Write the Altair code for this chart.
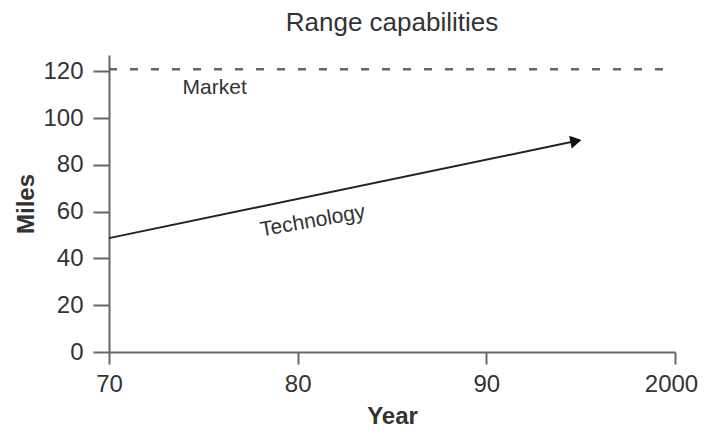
import altair as alt
import pandas as pd

# ---- data ----
market_years = [1970, 2000]
market_miles = [120.9, 120.9]

tech_years = [1970, 1994.75]
tech_miles = [48.7, 90.2]

label_text = ["Market", "Technology"]
label_years = [1975.6, 1980.8]
label_miles = [112.7, 55.9]
label_angle = [0, 350]

x_ticks = [1970, 1980, 1990, 2000]
y_ticks = [0, 20, 40, 60, 80, 100, 120]

FONT = "Liberation Sans"
AXIS_COLOR = "#666666"
TEXT_COLOR = "#333333"

market_df = pd.DataFrame({"year": market_years, "miles": market_miles})
tech_df = pd.DataFrame({"year": tech_years, "miles": tech_miles})
arrow_df = tech_df.tail(1)
label_df = pd.DataFrame({"text": label_text, "year": label_years,
                         "miles": label_miles, "angle": label_angle})

x_scale = alt.Scale(domain=[1970, 2000], nice=False, zero=False)
y_scale = alt.Scale(domain=[0, 127], nice=False)

x_axis = alt.Axis(
    values=x_ticks,
    labelExpr="datum.value == 2000 ? '2000' : format(datum.value % 100, 'd')",
    title="Year", grid=False,
    tickSize=12, tickWidth=2, tickColor=AXIS_COLOR,
    domainColor=AXIS_COLOR, domainWidth=2,
    labelFont=FONT, labelFontSize=24, labelColor=TEXT_COLOR, labelPadding=8,
    labelFlush=False,
    labelOffset={"condition": {"test": "datum.value == 2000", "value": -4}, "value": 0},
    titleFont=FONT, titleFontSize=24, titleFontWeight="bold", titleColor=TEXT_COLOR,
    titlePadding=8,
)
y_axis = alt.Axis(
    values=y_ticks, title="Miles", grid=False,
    tickSize=16, tickWidth=2, tickColor=AXIS_COLOR,
    domainColor=AXIS_COLOR, domainWidth=2,
    labelFont=FONT, labelFontSize=24, labelColor=TEXT_COLOR, labelPadding=10,
    titleFont=FONT, titleFontSize=24, titleFontWeight="bold", titleColor=TEXT_COLOR,
    titlePadding=4,
)

market = alt.Chart(market_df).mark_line(
    color="#666666", strokeWidth=2.5, strokeDash=[8, 13]
).encode(
    x=alt.X("year:Q", scale=x_scale, axis=x_axis),
    y=alt.Y("miles:Q", scale=y_scale, axis=y_axis),
)

tech = alt.Chart(tech_df).mark_line(color="#222222", strokeWidth=2).encode(
    x=alt.X("year:Q", scale=x_scale),
    y=alt.Y("miles:Q", scale=y_scale),
)

arrow = alt.Chart(arrow_df).mark_point(
    shape="triangle-right", filled=True, size=170, color="#111111",
    opacity=1, angle=349,
).encode(
    x=alt.X("year:Q", scale=x_scale),
    y=alt.Y("miles:Q", scale=y_scale),
)

labels = alt.Chart(label_df).mark_text(
    font=FONT, fontSize=21, color=TEXT_COLOR, align="center", baseline="middle"
).encode(
    x=alt.X("year:Q", scale=x_scale),
    y=alt.Y("miles:Q", scale=y_scale),
    text="text:N",
    angle=alt.Angle("angle:Q", scale=None),
)

chart = alt.layer(market, tech, arrow, labels).properties(
    width=566, height=297,
    title=alt.TitleParams("Range capabilities", font=FONT, fontSize=26,
                          fontWeight="normal", color=TEXT_COLOR, offset=19),
    autosize=alt.AutoSizeParams(type="none"),
    padding={"left": 101, "top": 47, "right": 25, "bottom": 76},
).configure_view(stroke=None)

chart.save("out.html", embed_options={"renderer": "svg", "actions": False})
